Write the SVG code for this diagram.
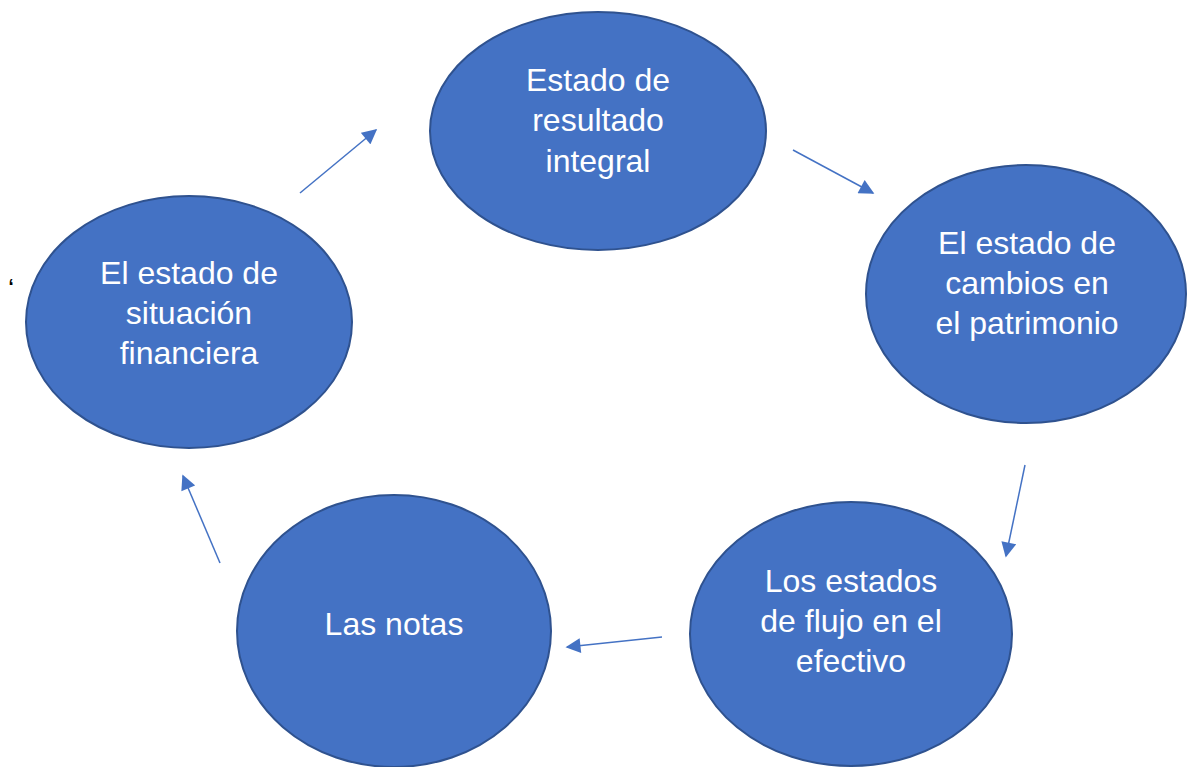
<svg xmlns="http://www.w3.org/2000/svg" width="1189" height="767" viewBox="0 0 1189 767">
<defs>
<style>
.node ellipse{fill:#4472C4;stroke:#2F528F;stroke-width:2}
.node text{fill:#fff;font-family:"Liberation Sans",Arial,sans-serif;font-size:32px;text-anchor:middle}
.conn line{stroke:#4472C4;stroke-width:1.5;marker-end:url(#ah)}
</style>
<marker id="ah" viewBox="0 0 10 10" refX="9" refY="5" markerWidth="16" markerHeight="15" markerUnits="userSpaceOnUse" orient="auto">
<path d="M0,0 L10,5 L0,10 z" fill="#4472C4"/>
</marker>
</defs>
<rect width="1189" height="767" fill="#fff"/>
<g id="n1" class="node">
<ellipse cx="598" cy="131" rx="168" ry="119"/>
<text x="598" y="91">Estado de</text>
<text x="598" y="131">resultado</text>
<text x="598" y="172">integral</text>
</g>
<g id="n2" class="node">
<ellipse cx="1026" cy="294" rx="160" ry="129"/>
<text x="1027" y="254">El estado de</text>
<text x="1027" y="294">cambios en</text>
<text x="1027" y="334">el patrimonio</text>
</g>
<g id="n3" class="node">
<ellipse cx="851" cy="634" rx="161" ry="132"/>
<text x="851" y="592">Los estados</text>
<text x="851" y="632">de flujo en el</text>
<text x="851" y="672">efectivo</text>
</g>
<g id="n4" class="node">
<ellipse cx="394" cy="631" rx="157" ry="136"/>
<text x="394" y="635">Las notas</text>
</g>
<g id="n5" class="node">
<ellipse cx="189" cy="322" rx="163" ry="126"/>
<text x="189" y="284">El estado de</text>
<text x="189" y="324">situación</text>
<text x="189" y="364">financiera</text>
</g>
<g id="connectors" class="conn">
<line x1="300" y1="193" x2="376" y2="130"/>
<line x1="793" y1="150" x2="873" y2="193"/>
<line x1="1025" y1="465" x2="1006" y2="556"/>
<line x1="662" y1="637" x2="567" y2="647"/>
<line x1="220" y1="563" x2="183" y2="476"/>
</g>
<text x="8" y="298" font-family="Liberation Sans, Arial, sans-serif" font-size="28" fill="#000">‘</text>
</svg>
